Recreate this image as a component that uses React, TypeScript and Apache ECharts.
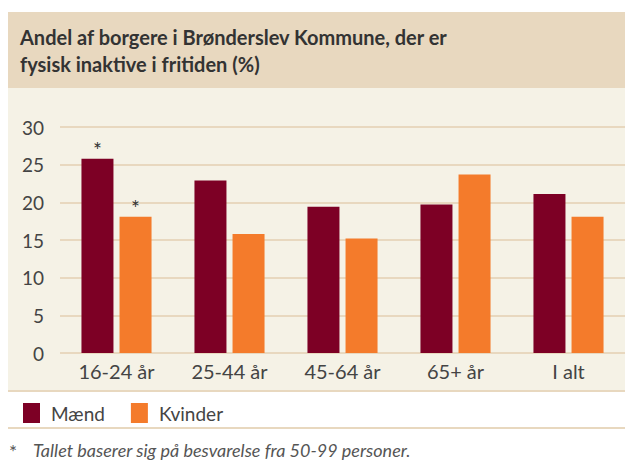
import React, { useEffect, useRef } from "react";
import * as echarts from "echarts";

const categories = ["16-24 år", "25-44 år", "45-64 år", "65+ år", "I alt"];
const maend = [25.8, 22.9, 19.4, 19.7, 21.1];
const kvinder = [18.1, 15.8, 15.2, 23.7, 18.1];
const maendStar = [true, false, false, false, false];
const kvinderStar = [true, false, false, false, false];
const yTicks = [0, 5, 10, 15, 20, 25, 30];

const FONT = "Lato";

export default function App() {
  const ref = useRef<HTMLDivElement>(null);
  useEffect(() => {
    const chart = echarts.init(ref.current!, undefined, { renderer: "svg" });
    const mkData = (vals: number[], stars: boolean[]) =>
      vals.map((v, i) => ({
        value: v,
        label: {
          show: stars[i],
          position: "top",
          formatter: "*",
          color: "#333",
          fontSize: 21,
          fontFamily: FONT,
          distance: -1,
        },
      }));
    chart.setOption({
      animation: false,
      textStyle: { fontFamily: FONT },
      graphic: [
        { type: "rect", shape: { x: 8, y: 12, width: 617, height: 76 }, style: { fill: "#e8d8bf" }, z: -10 },
        { type: "rect", shape: { x: 8, y: 88, width: 617, height: 302 }, style: { fill: "#f5f2e6" }, z: -10 },
        {
          type: "text",
          x: 20,
          y: 23,
          style: {
            text: "Andel af borgere i Brønderslev Kommune, der er\nfysisk inaktive i fritiden (%)",
            fontFamily: FONT,
            fontWeight: "bold",
            fontSize: 20,
            lineHeight: 27,
            fill: "#333",
          },
        },
        { type: "line", shape: { x1: 8, y1: 391, x2: 625, y2: 391 }, style: { stroke: "#e8d8bf", lineWidth: 2 } },
        { type: "line", shape: { x1: 8, y1: 428, x2: 625, y2: 428 }, style: { stroke: "#e8d8bf", lineWidth: 2 } },
        {
          type: "text",
          x: 9,
          y: 442,
          style: { text: "*", fontFamily: FONT, fontSize: 19, fill: "#555" },
        },
        {
          type: "text",
          x: 33,
          y: 441,
          style: {
            text: "Tallet baserer sig på besvarelse fra 50-99 personer.",
            fontFamily: FONT,
            fontStyle: "italic",
            fontSize: 18,
            fill: "#555",
          },
        },
      ],
      legend: {
        left: 18,
        top: 398,
        icon: "rect",
        itemWidth: 17,
        itemHeight: 20,
        itemGap: 26,
        textStyle: { fontFamily: FONT, fontSize: 19, color: "#444", padding: [0, 0, 0, 6] },
        data: ["Mænd", "Kvinder"],
      },
      grid: { left: 60, top: 127, width: 571, height: 226 },
      xAxis: {
        type: "category",
        data: categories,
        axisLine: { show: false },
        axisTick: { show: false },
        axisLabel: { fontSize: 20, color: "#444", fontFamily: FONT, margin: 8 },
      },
      yAxis: {
        type: "value",
        min: yTicks[0],
        max: yTicks[yTicks.length - 1],
        interval: 5,
        axisLine: { show: false },
        axisTick: { show: false },
        axisLabel: { fontSize: 19, color: "#444", fontFamily: FONT, margin: 16 },
        splitLine: { lineStyle: { color: "#e8d8bf", width: 2 } },
      },
      series: [
        {
          name: "Mænd",
          type: "bar",
          barWidth: 32,
          barGap: "19%",
          itemStyle: { color: "#7d0025" },
          data: mkData(maend, maendStar),
        },
        {
          name: "Kvinder",
          type: "bar",
          barWidth: 32,
          itemStyle: { color: "#f47b2b" },
          data: mkData(kvinder, kvinderStar),
        },
      ],
    });
    return () => chart.dispose();
  }, []);
  return (
    <div
      ref={ref}
      style={{ position: "fixed", left: 0, top: 0, width: 625, height: 464, background: "#fff" }}
    />
  );
}
